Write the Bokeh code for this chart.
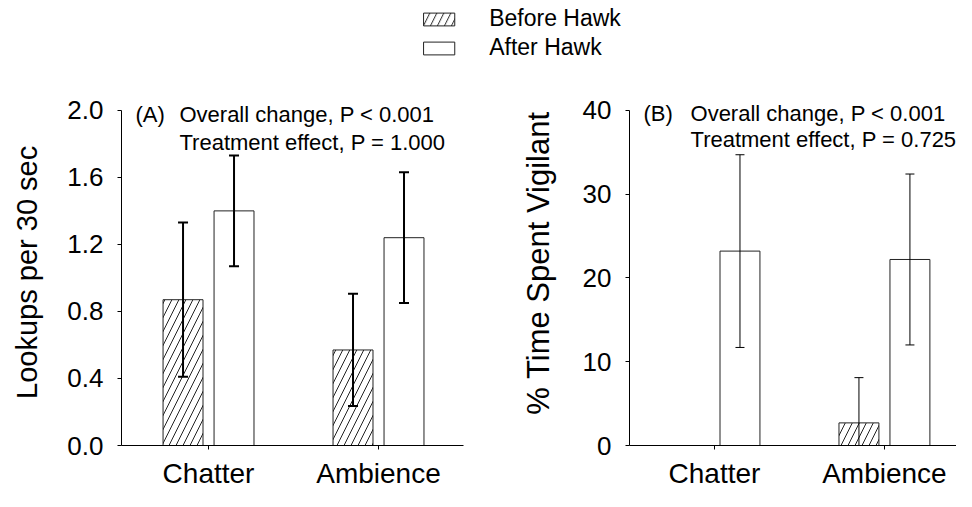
import numpy as np
from bokeh.plotting import figure
from bokeh.layouts import column, row
from bokeh.models import (Range1d, FixedTicker, Label, Legend, LegendItem,
                          NumeralTickFormatter)
from bokeh.embed import file_html
from bokeh.resources import INLINE

# ---------------- data ----------------
categories = ["Chatter", "Ambience"]
series = ["Before Hawk", "After Hawk"]

lookups_before = [0.87, 0.57]
lookups_before_err = [0.46, 0.335]
lookups_after = [1.40, 1.24]
lookups_after_err = [0.33, 0.39]

vigilant_before = [0.0, 2.7]
vigilant_before_err = [0.0, 5.4]
vigilant_after = [23.2, 22.2]
vigilant_after_err = [11.5, 10.2]

lookups_ticks = [0.0, 0.4, 0.8, 1.2, 1.6, 2.0]
vigilant_ticks = [0, 10, 20, 30, 40]

lookups_label = "Lookups per 30 sec"
vigilant_label = "% Time Spent Vigilant"
panel_a_text = ["(A)", "Overall change, P < 0.001", "Treatment effect, P = 1.000"]
panel_b_text = ["(B)", "Overall change, P < 0.001", "Treatment effect, P = 0.725"]

FONT = "Liberation Sans"
ROW_H = 429
AXIS_H = 337          # pixels from 0 to top tick
EXTRA = 30            # extra frame room above the top tick for the texts
BORDER_TOP = 18
BORDER_BOTTOM = 44
STRIP_W = 48          # narrow strip holding panel A's y-axis title


def panel(before, before_err, after, after_err, yticks, yfmt, ylabel, texts,
          x_start, x_end, width, border_left, border_right, err_lw, cap,
          text_x, text_px, ylabel_size):
    pos = np.arange(1, len(categories) + 1)
    xb = pos - 0.15
    xa = pos + 0.15
    ytop = yticks[-1]
    px2d = (ytop - yticks[0]) / AXIS_H
    p = figure(width=width, height=ROW_H,
               x_range=Range1d(x_start, x_end),
               y_range=Range1d(yticks[0], ytop + EXTRA * px2d),
               toolbar_location=None, output_backend="svg",
               min_border_left=border_left, min_border_right=border_right,
               min_border_top=BORDER_TOP, min_border_bottom=BORDER_BOTTOM)
    p.outline_line_color = None
    p.xgrid.visible = False
    p.ygrid.visible = False

    p.vbar(x=xb, top=before, bottom=0, width=0.235, fill_color="white",
           line_color="#222222", line_width=1, hatch_pattern="/",
           hatch_color="#222222", hatch_weight=1, hatch_scale=14)
    p.vbar(x=xa, top=after, bottom=0, width=0.235, fill_color="white",
           line_color="#222222", line_width=1)

    for xs, m, e in ((xb, before, before_err), (xa, after, after_err)):
        m = np.array(m, dtype=float)
        e = np.array(e, dtype=float)
        keep = e > 0
        lo = (m - e)[keep]
        hi = (m + e)[keep]
        xk = xs[keep]
        p.segment(x0=xk, y0=lo, x1=xk, y1=hi, line_width=err_lw, line_color="black")
        p.dash(x=xk, y=hi, size=cap, line_width=err_lw, line_color="black")
        p.dash(x=xk, y=lo, size=cap, line_width=err_lw, line_color="black")

    # axes
    p.xaxis.ticker = FixedTicker(ticks=[int(v) for v in pos])
    p.xaxis.major_label_overrides = {int(v): c for v, c in zip(pos, categories)}
    p.xaxis.major_label_text_font_size = "28px"
    p.xaxis.major_label_standoff = 8
    p.yaxis.ticker = FixedTicker(ticks=yticks)
    p.yaxis.bounds = (yticks[0], ytop)
    p.yaxis.formatter = NumeralTickFormatter(format=yfmt)
    p.yaxis.major_label_text_font_size = "26px"
    p.yaxis.major_label_standoff = 14
    if ylabel:
        p.yaxis.axis_label = ylabel
        p.yaxis.axis_label_text_font = FONT
        p.yaxis.axis_label_text_font_style = "normal"
        p.yaxis.axis_label_text_font_size = ylabel_size
        p.yaxis.axis_label_text_color = "black"
        p.yaxis.axis_label_standoff = 24
    for ax in (p.xaxis, p.yaxis):
        ax.axis_line_color = "black"
        ax.axis_line_width = 1
        ax.major_tick_line_color = "black"
        ax.major_tick_out = 4
        ax.major_tick_in = 0
        ax.minor_tick_line_color = None
        ax.major_label_text_font = FONT
        ax.major_label_text_color = "black"

    # annotation texts
    for tx, ty, t in ((text_x[0], text_px[0], texts[0]),
                      (text_x[1], text_px[0], texts[1]),
                      (text_x[1], text_px[1], texts[2])):
        p.add_layout(Label(x=tx, y=ytop - ty * px2d, text=t,
                           text_font=FONT, text_font_size="22px", text_color="black",
                           text_baseline="alphabetic"))
    return p


# narrow strip with panel A's vertical axis title
strip = figure(width=STRIP_W, height=ROW_H, x_range=Range1d(0, 1), y_range=Range1d(0, 1),
               toolbar_location=None, output_backend="svg",
               x_axis_location=None, y_axis_location=None,
               min_border_left=0, min_border_right=0, min_border_top=0, min_border_bottom=0)
strip.outline_line_color = None
strip.xgrid.visible = False
strip.ygrid.visible = False
strip.add_layout(Label(x=26 / STRIP_W, y=1 - 225.5 / ROW_H, text=lookups_label,
                       angle=np.pi / 2, text_align="center", text_baseline="middle",
                       text_font=FONT, text_font_size="29px", text_color="black"))

pA = panel(lookups_before, lookups_before_err, lookups_after, lookups_after_err,
           lookups_ticks, "0.0", None, panel_a_text,
           x_start=0.488, x_end=2.5, width=482 - STRIP_W, border_left=121 - STRIP_W,
           border_right=19, err_lw=2, cap=10, text_x=(0.570, 0.829), text_px=(4, 32),
           ylabel_size="29px")
pB = panel(vigilant_before, vigilant_before_err, vigilant_after, vigilant_after_err,
           vigilant_ticks, "0", vigilant_label, panel_b_text,
           x_start=0.5, x_end=2.424, width=474, border_left=147, border_right=0,
           err_lw=1, cap=9, text_x=(0.582, 0.859), text_px=(3, 29),
           ylabel_size="31px")

# ---------------- legend ----------------
lf = figure(width=956, height=62, x_range=Range1d(0, 1), y_range=Range1d(0, 1),
            toolbar_location=None, output_backend="svg",
            x_axis_location=None, y_axis_location=None,
            min_border_left=84, min_border_right=0, min_border_top=5, min_border_bottom=0)
lf.outline_line_color = None
lf.xgrid.visible = False
lf.ygrid.visible = False
# legend proxies (kept well outside the visible ranges)
r_before = lf.vbar(x=[-50], top=[-50], bottom=[-51], width=0.1, fill_color="white",
                   line_color="#222222", line_width=1, hatch_pattern="/",
                   hatch_color="#222222", hatch_weight=1, hatch_scale=14)
r_after = lf.vbar(x=[-50], top=[-50], bottom=[-51], width=0.1, fill_color="white",
                  line_color="#222222", line_width=1)
legend = Legend(items=[LegendItem(label=series[0], renderers=[r_before]),
                       LegendItem(label=series[1], renderers=[r_after])],
                location="top_center", orientation="vertical",
                glyph_width=39, glyph_height=16, label_standoff=31, spacing=2,
                padding=0, margin=0, border_line_color=None, background_fill_alpha=0,
                label_text_font=FONT, label_text_font_size="23px",
                label_text_color="black")
lf.add_layout(legend)

layout = column(lf, row(strip, pA, pB))
open("out.html", "w").write(file_html(layout, INLINE))
